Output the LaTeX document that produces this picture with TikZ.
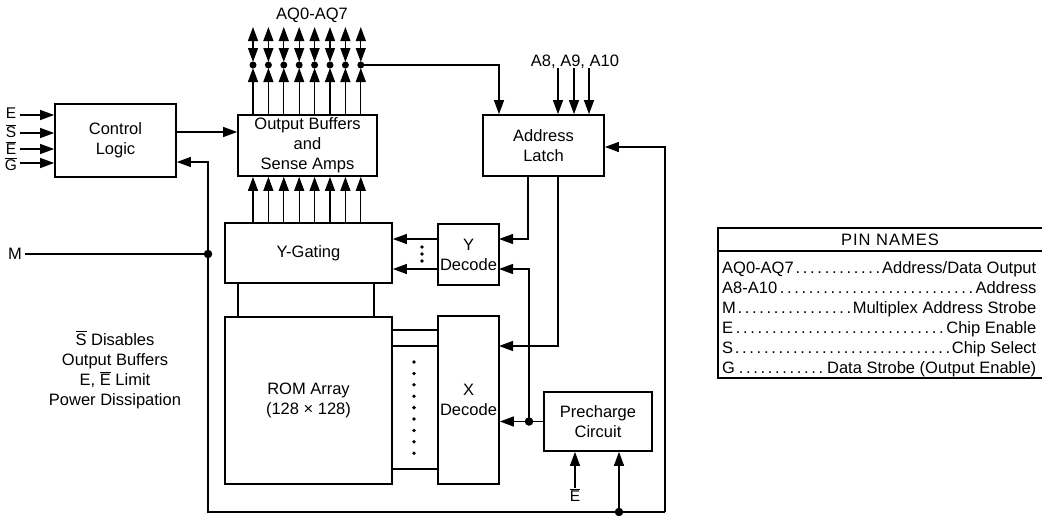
\documentclass[tikz,border=0pt]{standalone}
\usepackage{amsmath}
\usepackage{fontspec}
\setmainfont{Liberation Sans}
\usetikzlibrary{arrows.meta,
                calc,
                positioning}
\newcommand{\negsig}[1]{$\overline{\mbox{#1}}$}

\begin{document}
\begin{tikzpicture}[
        x=1pt, y=-1pt,
        font=\fontsize{16.5}{20}\selectfont,
        block/.style={rectangle, draw=black, line width=1.7pt, inner sep=0pt, align=center},
        wire/.style={line width=1.25pt},
        arr/.style={wire, arrows=-{Triangle[length=14pt, width=10pt]}},
        biarr/.style={wire, arrows={Triangle[length=14pt, width=10pt]-Triangle[length=14pt, width=10pt]}},
        jdot/.style={circle, fill=black, inner sep=0pt, minimum size=8.5pt},
        sig/.style={inner sep=0pt, font=\fontsize{15.5}{16}\selectfont},
        pinrow/.style={anchor=base west, inner sep=0pt, font=\fontsize{16.5}{18}\selectfont}
        ]
        \useasboundingbox (0,0) rectangle (1042,515);

        \node (ctrl)   [block, minimum width=121pt, minimum height=73pt]  at (115.5,140.5) {Control\\Logic};
        \node (outbuf) [block, minimum width=139pt, minimum height=61pt]  at (307.5,145.5) {Output Buffers\\and\\Sense Amps};
        \node (latch)  [block, minimum width=121pt, minimum height=61pt]  at (543.5,145.5) {Address\\Latch};
        \node (ygate)  [block, minimum width=167pt, minimum height=60pt]  at (308.5,253)   {Y-Gating};
        \node (ydec)   [block, minimum width=61pt,  minimum height=61pt]  at (468.5,254.5) {Y\\Decode};
        \node (rom)    [block, minimum width=167pt, minimum height=167pt] at (308.5,400.5) {ROM Array\\(128 × 128)};
        \node (xdec)   [block, minimum width=61pt,  minimum height=168pt] at (468.5,400)   {X\\Decode};
        \node (prech)  [block, minimum width=108pt, minimum height=59pt]  at (598,421.5)   {Precharge\\Circuit};

        \node (aqlbl) at (312,15) {AQ0-AQ7};
        \node (albl)  at (575,62) {A8, A9, A10};
        \node (mlbl)  [sig, font=\fontsize{16.5}{18}\selectfont] at (15,254)  {M};
        \node (inE)   [sig] at (11,113)  {E};
        \node (inS)   [sig] at (11,131)  {\negsig{S}};
        \node (inEb)  [sig] at (11,148)  {\negsig{E}};
        \node (inG)   [sig] at (11,164)  {\negsig{G}};
        \node (ebar)  [sig] at (575,495) {\negsig{E}};
        \node (note)  [align=center] at (115,370) {\negsig{S} Disables\\Output Buffers\\E, \negsig{E} Limit\\Power Dissipation};

        \node (mdot) [jdot] at (208,254)   {};
        \node (pdot) [jdot] at (529,421.5) {};
        \node (bdot) [jdot] at (619,512)   {};

        \coordinate (clout) at (200,132);
        \coordinate (clfb)  at (190,162);
        \coordinate (lfb)   at (640,147);
        \coordinate (busR)  at (499,65);
        \coordinate (ly)    at (528,200);
        \coordinate (lx)    at (558,200);
        \coordinate (yin1)  at (499,239);
        \coordinate (yin2)  at (499,269);
        \coordinate (xin1)  at (499,346);
        \coordinate (loopL) at (208,512);
        \coordinate (loopR) at (665,512);
        \coordinate (gl)    at (238,300);
        \coordinate (gr)    at (374,300);

        \foreach \n/\y in {inE/115, inS/133, inEb/149, inG/163}{
            \coordinate (r\n) at (20,\y);
            \draw [arr] (r\n) -- (r\n -| ctrl.west);
        }

        \draw [arr] (ctrl.east |- clout) -- (outbuf.west |- clout);
        \draw [arr] (mdot.center) |- (ctrl.east |- clfb);
        \draw [wire] (mlbl.east) ++(3pt,0) -- (mdot.center);
        \draw [wire] (mdot.center) -- (loopL) -- (loopR);
        \draw [arr] (loopR) |- (latch.east |- lfb);

        \foreach \i in {0,...,7}{
            \pgfmathsetmacro\bx{253+15.4*\i}
            \node (dq\i) [jdot, minimum size=7pt] at (\bx,65) {};
            \coordinate (aq\i) at (\bx,27);
            \draw [arr, shorten >=3pt] (outbuf.north -| dq\i) -- (dq\i.center);
            \draw [biarr, shorten <=3pt] (dq\i.center) -- (aq\i);
            \draw [arr] (ygate.north -| dq\i) -- (outbuf.south -| dq\i);
        }
        \draw [arr] (dq7.center) -| (busR |- latch.north);

        \foreach \x [count=\k] in {558,574,589}{
            \coordinate (a\k) at (\x,68);
            \draw [arr] (a\k) -- (a\k |- latch.north);
        }

        \draw [arr] (latch.south -| ly) |- (yin1);
        \draw [arr] (latch.south -| lx) |- (xin1);
        \draw [arr] (ydec.west |- yin1) -- (ygate.east |- yin1);
        \draw [arr] (ydec.west |- yin2) -- (ygate.east |- yin2);
        \foreach \k in {0,1,2}
            \fill (422,247+7*\k) circle (1.9pt);

        \draw [wire] (prech.west) -- (pdot.center);
        \draw [arr] (pdot.center) -- (xdec.east |- pdot);
        \draw [arr] (pdot.center) |- (yin2);

        \draw [wire] (ygate.south -| gl) -- (rom.north -| gl);
        \draw [wire] (ygate.south -| gr) -- (rom.north -| gr);
        \foreach \y [count=\k] in {330,346,469}{
            \coordinate (h\k) at (415,\y);
            \draw [wire] (rom.east |- h\k) -- (xdec.west |- h\k);
        }
        \foreach \k in {0,...,8}
            \fill (414,362+11.4*\k) circle (1.9pt);

        \draw [arr] (ebar.north) -- (prech.south -| ebar);
        \draw [arr] (bdot.center) -- (prech.south -| bdot);

        % pin names table, open on the right edge
        \coordinate (tabNW) at (718,228);
        \coordinate (tabSW) at (718,378);
        \coordinate (tabE)  at (1060,0);
        \coordinate (sepL)  at (718,251);
        \draw [line width=1.4pt] (tabNW -| tabE) -- (tabNW) -- (tabSW) -- (tabSW -| tabE);
        \draw [line width=1.4pt] (sepL) -- (sepL -| tabE);
        \node (pinhead) [anchor=base, inner sep=0pt, font=\fontsize{16.5}{18}\selectfont\addfontfeature{LetterSpace=6}] at (890,245.5) {PIN NAMES};
        \node (pin1) [pinrow] at (722,273.5) {\makebox[314pt]{AQ0-AQ7\dotfill Address/Data Output}};
        \node (pin2) [pinrow] at (722,293.5) {\makebox[314pt]{A8-A10\dotfill Address}};
        \node (pin3) [pinrow] at (722,313.5) {\makebox[314pt]{M\dotfill Multiplex Address Strobe}};
        \node (pin4) [pinrow] at (722,333.5) {\makebox[314pt]{E\dotfill Chip Enable}};
        \node (pin5) [pinrow] at (722,353.5) {\makebox[314pt]{S\dotfill Chip Select}};
        \node (pin6) [pinrow] at (722,373.5) {\makebox[314pt]{G\dotfill Data Strobe (Output Enable)}};

    \end{tikzpicture}
\end{document}
